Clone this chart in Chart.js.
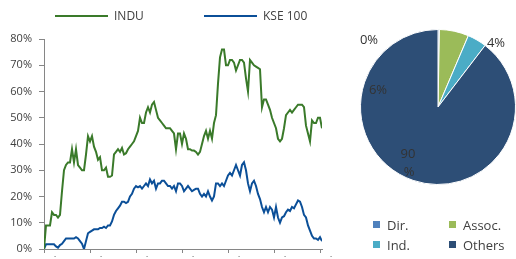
<!DOCTYPE html>
<html>
<head>
<meta charset="utf-8">
<script src="https://cdn.jsdelivr.net/npm/chart.js@4.4.1/dist/chart.umd.min.js"></script>
<style>
  body{margin:0;background:#fff;width:516px;height:259px;overflow:hidden;position:relative;font-family:"Open Sans",sans-serif;color:#404040;}
  #line-box{position:absolute;left:0;top:0;width:340px;height:259px;}
  #pie-box{position:absolute;left:340px;top:0;width:176px;height:259px;}
  .lg{position:absolute;font-size:12px;line-height:14px;white-space:nowrap;}
  .lg i{position:absolute;display:block;}
</style>
</head>
<body>
<div id="line-box"><canvas id="linha"></canvas></div>
<div id="pie-box"><canvas id="pizza"></canvas></div>

<!-- legendas feitas a mao -->
<div class="lg" style="left:55px;top:9px;"><i style="left:0;top:6px;width:53px;height:2px;background:#3a7a2a"></i><span style="margin-left:59px">INDU</span></div>
<div class="lg" style="left:204px;top:9px;"><i style="left:0;top:6px;width:53px;height:2px;background:#0b4f98"></i><span style="margin-left:59px">KSE 100</span></div>
<div id="pie-legend"></div>

<script>
// dados (variacao acumulada, %)
const indu = [0,9,9,9,14,13,13,12,13,22,30,32,33,33,38,33,38,32,31,30,
  30,36,43,41,43,39,37,34,35,30,30,31,27.5,27.5,28,36,37,38,37,38.5,
  36,36.5,38,39,40,41,43,45,50,48,48,52,54,52,55,56,53,50,49,48,
  47,46,46,46,45,44,38,44,44,40,44,42,38,38,37.5,37.5,37,36,37,40,
  43,45,42,45,42,48,51,63,73,76,76,70,70,72,72,71,68,70,72,72,
  71,65,60,72,71,70,69.5,69,68.5,54,57,57,55,53,50,48,46,42,41,42,
  46,51,52,53,52,53,54,55,55,55,54,47,44,41,49,48,48,50,50,46];
const kse = [0,1.8,1.8,1.8,1.8,1.8,1,0.5,1.5,2,3,4,4,4,4,4,4.5,4,3,2,
  0,3,6,6.5,7,7.5,7.5,7.5,8,8,8.5,8,9,9,10.5,13,14.5,15.5,16.5,18,
  18,17.5,18,20,21,23,24,23.5,24,23,24,25,24,26.5,25,26,23,25,25,26,
  26,25,24,24,23,24,22,25,25,24,22,23,24,23,22,22.5,23,23,21,20,
  21,20,22,20,18.5,20,25,25,24,25,24,26,28,29,28,30,32,30,28,32,
  33,30,25,22,25,26,24,21,19,16,14,16,14,16,15,12,16,12,10,12,
  12.5,14,15,14.5,16,15.5,17,18.5,18,16,13,12,9,7,5,4,4,3.5,4.5,3];
const xTickLabels = [':',':',':',':',':',':',':'];
const tickStep = 23;

const pieLabels = ['Dir.','Assoc.','Ind.','Others'];
const pieValues = [0.3,6.1,4.0,89.6];
const pieColors = ['#4f81bd','#9bbb59','#4bacc6','#2d4e76'];

const cinza = '#868686';
const fonteEixo = {family:'"Open Sans", sans-serif', size:11};

new Chart(document.getElementById('linha'), {
  type:'line',
  data:{datasets:[
    {label:'INDU', data:indu.map((v,i)=>({x:i,y:v})), borderColor:'#3a7a2a', borderWidth:2, pointRadius:0, tension:0},
    {label:'KSE 100', data:kse.map((v,i)=>({x:i,y:v})), borderColor:'#0b4f98', borderWidth:2, pointRadius:0, tension:0}
  ]},
  options:{
    responsive:true, maintainAspectRatio:false, animation:false,
    layout:{padding:{top:39,right:18,left:0,bottom:0}},
    plugins:{legend:{display:false}, tooltip:{enabled:false}},
    scales:{
      x:{type:'linear', min:0, max:indu.length-1,
        afterFit:s=>{s.height=10;},
        border:{color:cinza},
        grid:{drawOnChartArea:false, tickLength:4, color:cinza},
        ticks:{stepSize:tickStep, includeBounds:false, padding:0, labelOffset:11, maxRotation:0,
          font:{family:'"Open Sans", sans-serif', size:8}, color:'#404040',
          callback:(v)=>xTickLabels[Math.round(v/tickStep)] || ''}
      },
      y:{min:0, max:80,
        // sem isso o padding dos ticks empurra o eixo x pra cima
        afterFit:s=>{s.width=44; s.paddingBottom=0; s.paddingTop=0;},
        border:{color:cinza},
        grid:{drawOnChartArea:false, tickLength:5, color:cinza},
        ticks:{stepSize:10, padding:7, font:fonteEixo, color:'#404040', callback:v=>v+'%'}
      }
    }
  }
});

// rotulos da pizza (posicao fixa igual ao excel)
const posRotulos = [[29,40],[38,90],[156,43],[68,154]];
const rotulosPizza = {
  id:'rotulosPizza',
  afterDraw(chart){
    const ctx = chart.ctx;
    ctx.save();
    ctx.font = '13px "Open Sans", sans-serif';
    ctx.fillStyle = '#333';
    ctx.textAlign = 'center';
    ctx.textBaseline = 'middle';
    pieValues.forEach((v,i)=>{
      const txt = Math.round(v)+'%';
      const p = posRotulos[i];
      if (i===3) {
        ctx.fillText(txt.slice(0,-1), p[0], p[1]);
        ctx.fillText('%', p[0]+1, p[1]+18);
      } else {
        ctx.fillText(txt, p[0], p[1]);
      }
    });
    ctx.restore();
  }
};

new Chart(document.getElementById('pizza'), {
  type:'pie',
  data:{labels:pieLabels, datasets:[{data:pieValues, backgroundColor:pieColors, borderColor:'#fff', borderWidth:1}]},
  options:{
    responsive:true, maintainAspectRatio:false, animation:false,
    layout:{padding:{left:20,right:0,top:29,bottom:74}},
    plugins:{legend:{display:false}, tooltip:{enabled:false}}
  },
  plugins:[rotulosPizza]
});

// legenda da pizza
const posLeg = [[373,219],[449,219],[373,239],[449,239]];
let html = '';
pieLabels.forEach((l,i)=>{
  html += `<div class="lg" style="left:${posLeg[i][0]}px;top:${posLeg[i][1]-2}px;font-size:13px;line-height:16px;"><i style="left:0;top:4px;width:7px;height:7px;background:${pieColors[i]}"></i><span style="margin-left:14px">${l}</span></div>`;
});
document.getElementById('pie-legend').innerHTML = html;
</script>
</body>
</html>
